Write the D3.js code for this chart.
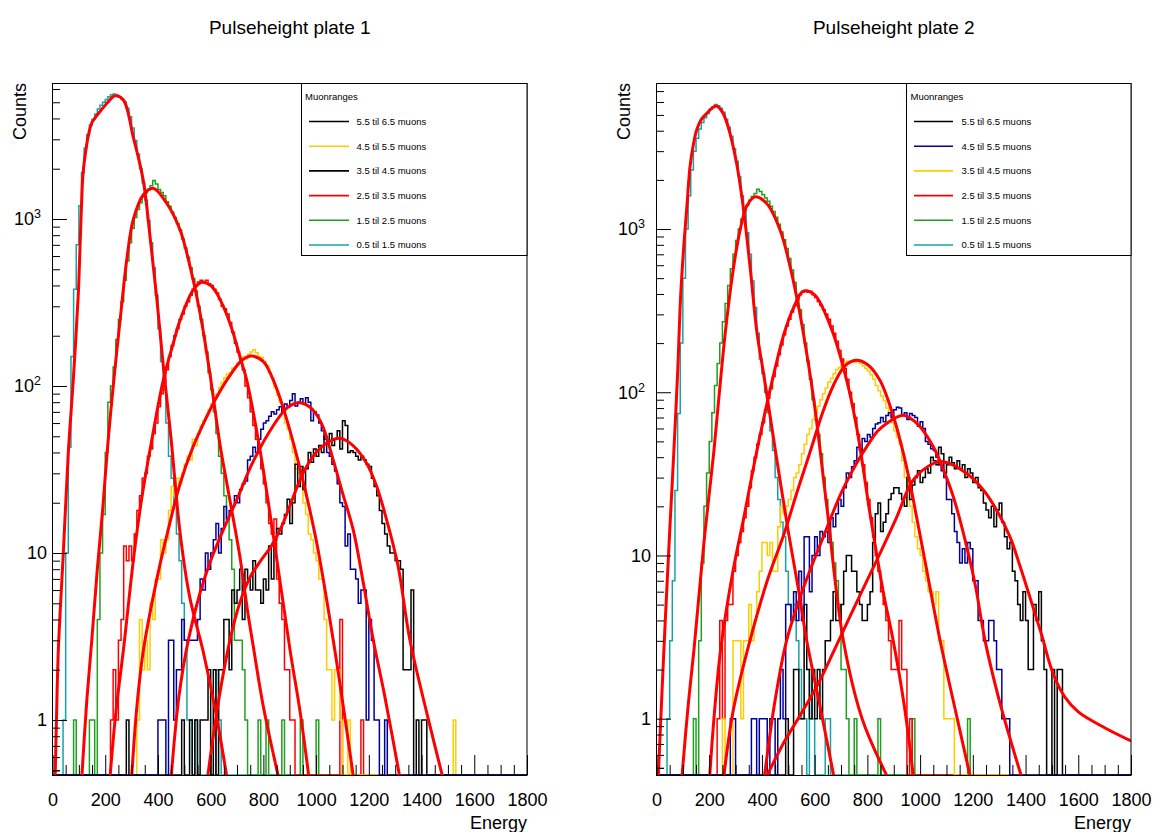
<!DOCTYPE html>
<html>
<head>
<meta charset="utf-8">
<title>Pulseheight</title>
<script src="https://cdn.jsdelivr.net/npm/d3@7"></script>
<style>
  body { margin: 0; background: #fff; }
  svg text { font-family: "Liberation Sans", Arial, Helvetica, sans-serif; fill: #000; }
</style>
</head>
<body>
<div id="chart"></div>
<script>
// axis ticks and texts
const energyTicks = [0, 200, 400, 600, 800, 1000, 1200, 1400, 1600, 1800];
const countDecades = [1, 10, 100, 1000];
const panelTitles = ["Pulseheight plate 1", "Pulseheight plate 2"];
const legendTitle = "Muonranges";
const legendLabels = ["5.5 til 6.5 muons", "4.5 til 5.5 muons", "3.5 til 4.5 muons",
                      "2.5 til 3.5 muons", "1.5 til 2.5 muons", "0.5 til 1.5 muons"];

// histograms, bins of 10: low edge of first bin + counts
const p1CyanFrom = 40;
const p1Cyan = [1,10,43,150,380,700,1200,1900,2650,3200, 3650,3950,4250,4550,4800,5000,5200,5400,5550,5600,
  5500,5350,5200,5000,4600,4100,3500,2950,2450,2000, 1650,1300,980,720,510,350,220,140,95,60,
  38,28,20,13,9,5,3,1,1,0, 1,0,0,0,0,0,0,0,2,1];
const p1GreenFrom = 80;
const p1Green = [1,0,0,0,0,0,1,1,0,4, 10,17,40,80,100,130,190,250,320,430,
  560,720,880,1020,1140,1250,1360,1430,1500,1580, 1700,1620,1500,1440,1380,1270,1190,1100,1020,940,
  860,760,670,590,510,440,370,300,250,200, 160,120,95,70,52,38,30,22,16,12,
  8,3,3,3,2,1,0,0,0,0, 1,0,0,1,0,0,0,0,0,1, 0,0,0,0,0,0,1,0,0,0, 0,0,1];
const p1RedFrom = 220;
const p1Red = [1,2,1,3,4,11,9,11,9,13, 18,22,28,30,38,42,52,60,75,90,
  105,125,150,175,200,220,250,270,300,320, 350,380,400,420,430,420,430,410,400,380,
  360,330,300,290,270,240,210,180,160,140, 125,100,85,70,58,48,40,32,26,20,
  15,13,16,7,5,4,2,2,1,1, 0,0,0,0,0,0,0,0,0,0, 0,0,0,0,0,0,0,4,0,0, 0,0,0,0,0,1];
const p1YellowFrom = 320;
const p1Yellow = [1,4,2,3,2,5,4,7,7,12, 10,12,18,25,22,28,26,30,34,38,
  36,48,44,52,58,62,66,72,78,84, 90,98,105,112,118,120,128,130,138,140,
  150,145,155,160,165,158,150,148,140,132, 120,112,98,88,80,70,60,55,48,40,
  32,30,25,20,17,13,12,10,9,7, 7,4,2,2,1,2,2,1,0,0,
  1,0,0,0,0,0,0,0,0,0, 0,0,0,0,0,0,0,0,0,0, 0,0,0,0,0,0,0,0,0,0, 0,0,0,0,0,0,0,0,0,0, 1];
const p1BlueFrom = 400;
const p1Blue = [1,1,1,0,3,3,1,2,2,4, 3,3,3,3,3,4,7,6,10,8,
  10,12,15,10,14,19,16,18,19,22, 20,24,26,27,36,38,43,40,48,55,
  60,62,66,70,68,72,75,70,78,75, 82,90,76,80,84,78,85,80,62,70,
  67,60,54,48,40,38,34,31,26,20, 19,11,13,8,8,7,5,6,6,1, 4,3,1,1,0,0,1];
const p1BlackFrom = 280;
const p1Black = [1,0,0,0,0,0,0,0,0,0, 0,0,0,0,0,0,0,0,0,0, 0,1,0,0,1,0,1,0,1,1,
  1,2,0,2,0,2,2,4,4,2, 6,5,6,8,4,8,7,6,9,6, 6,5,7,6,11,7,12,14,13,15,
  17,21,15,20,34,25,33,24,32,40, 35,42,38,44,40,50,45,52,44,48, 54,42,62,58,40,41,40,38,36,38,
  36,34,33,28,25,22,18,15,13,11, 10,10,9,9,8,2,2,2,6,0, 1,0,1,1];

const p2CyanFrom = 40;
const p2Cyan = [1,3,7,25,74,200,500,1000,1600,2300, 3000,3600,4100,4500,4800,5100,5400,5600,5800,5700,
  5500,5200,4700,4200,3700,3100,2600,2100,1600,1250, 950,700,480,330,230,160,130,100,75,58,
  44,30,22,16,13,8,5,4,5,3, 2,1,1,0,2,1,0,0,0,0, 1,1];
const p2GreenFrom = 140;
const p2Green = [1,0,3,9,20,32,50,75,110,150, 200,270,350,450,570,700,850,1000,1150,1280,
  1400,1500,1580,1650,1750,1700,1620,1550,1480,1380, 1280,1180,1070,960,860,760,660,560,470,390,
  320,260,200,155,120,90,68,55,42,30, 22,17,12,9,7,5,2,2,1,0,
  0,1,0,0,0,0,0,0,0,0, 1,0,0,0,0,0,0,0,0,0, 0,0,0,1,0,0,0,0,0,0,
  0,0,0,0,0,0,0,0,0,0, 0,0,0,0,1];
const p2RedFrom = 230;
const p2Red = [1,4,1,4,5,5,8,10,12,14, 17,20,26,33,40,48,55,65,78,92,
  105,125,145,170,195,225,255,280,310,340, 370,395,410,420,410,415,395,380,360,340,
  320,300,280,255,230,205,180,160,140,120, 100,85,70,55,45,36,28,22,17,13,
  10,8,6,5,4,3,2,2,2,4, 2,2,0,1];
const p2YellowFrom = 250;
const p2Yellow = [1,0,0,0,3,3,3,1,3,3, 5,3,4,6,8,12,12,10,12,8,
  8,15,20,18,20,22,25,30,32,36, 42,48,55,60,68,75,82,90,98,106,
  115,122,130,138,142,148,150,155,152,156, 152,155,150,145,140,135,128,120,110,102,
  95,89,80,72,65,58,53,48,38,30, 25,20,16,13,11,10,8,7,6,6, 5,6,3,3,1,1,1,1];
const p2BlueFrom = 280;
const p2Blue = [1,1,0,0,0,0,0,0,1,1, 0,1,1,1,0,1,1,0,1,2,
  1,5,5,4,6,4,8,4,13,13, 6,10,13,10,14,13,14,12,17,15,
  18,22,20,26,32,30,35,38,46,44, 52,50,55,53,60,64,65,70,66,72,
  75,70,78,81,80,72,75,68,74,72, 70,62,66,60,50,48,45,44,40,36,
  33,30,22,22,18,14,12,9,11,9, 12,11,7,7,4,4,3,3,4,4, 3,2,2,1,1,1];
const p2BlackFrom = 490;
const p2Black = [1,0,0,2,2,1,1,5,2,1, 2,1,2,1,2,3,3,4,6,4,
  4,5,8,10,10,8,8,6,5,4, 4,5,6,12,18,21,14,16,18,22,
  24,26,26,24,22,20,30,22,27,30, 33,28,30,34,32,40,38,36,46,42,
  32,36,40,37,34,38,34,36,30,34, 32,28,30,26,25,21,19,17,20,15,
  19,21,16,13,11,12,8,7,5,4, 6,4,2,2,5,4,6,3,2,0, 0,2,0,2,2];

// fitted curves as [energy, counts]
const p1CyanFit = [[10,0.45],[15,1],[22,2.6],[41,10],[60,40],[79,110],[98,360],[104,652],[110,1200],
  [115,1800],[123,2360],[135,3100],[149,3757],[165,4100],[180,4395],[210,5000],[237,5470],[269,5160],
  [306,3110],[344,1713],[370,783],[395,342],[420,134],[450,48],[484,13.2],[520,5.5],[571,2.6],[620,1.1],[662,0.45]];
const p1GreenFit = [[111,0.45],[130,1.3],[149,3],[170,8],[190,18],[210,45],[233,110],[260,280],[281,560],
  [306,986],[344,1393],[382,1527],[433,1242],[484,859],[522,518],[560,272],[597,119],[635,45],[670,22],
  [711,9.5],[740,4.5],[761,2.8],[800,1.2],[858,0.45]];
const p1RedFit = [[218,0.45],[240,1.1],[269,2.63],[310,10],[340,22],[370,41.5],[420,108],[458,180],[484,248],
  [534,376],[566,418],[600,400],[623,359],[660,270],[686,206],[711,150],[737,108],[787,41.5],[840,12],
  [901,2.63],[940,1.1],[973,0.45]];
const p1YellowFit = [[300,0.45],[320,1.2],[345,2.63],[400,7.5],[440,14],[484,26],[530,42],[580,63],[623,86],
  [680,120],[720,143],[755,151],[800,140],[838,108],[880,70],[939,32],[1000,12],[1065,3],[1100,1.3],[1142,0.45]];
const p1BlueFit = [[450,0.45],[480,1.4],[515,3],[560,5.8],[600,9],[650,14],[700,21],[760,35],[838,58],[890,74],
  [935,79.4],[980,74],[1020,60],[1065,36],[1100,23],[1141,13.7],[1180,6.5],[1217,3],[1260,1.4],[1318,0.45]];
const p1BlackFit = [[588,0.45],[630,1.3],[673,3],[710,5],[750,7.2],[790,9],[830,11],[870,14.5],[910,21],[950,30],
  [1000,40],[1050,46.5],[1091,48.6],[1140,44],[1192,34.4],[1230,25],[1268,15.7],[1310,8.5],[1356,3],[1420,1.1],[1481,0.45]];

const p2CyanFit = [[7,0.45],[28,2.63],[50,14],[66,44],[80,130],[92,400],[105,850],[117,1500],[127,2400],[140,3300],
  [152,4030],[170,4700],[190,5100],[210,5500],[228,5670],[250,5200],[272,4220],[304,2520],[329,1365],[355,586],
  [380,240],[410,119],[450,45],[500,14],[540,6],[570,3],[620,1.2],[672,0.45]];
const p2GreenFit = [[97,0.45],[120,1.2],[142,2.63],[180,12],[218,44],[241,110],[262,240],[285,480],[305,780],
  [325,1120],[342,1380],[373,1574],[418,1433],[469,984],[507,586],[544,303],[576,150],[600,82],[646,20],
  [709,3],[780,1],[873,0.45]];
const p2RedFit = [[202,0.45],[220,1.1],[243,2.63],[290,8],[332,17.3],[370,36],[408,70.7],[450,140],[484,229],
  [520,330],[557,416],[600,395],[661,251],[721,119],[760,60],[810,18],[860,6],[898,3],[940,1.2],[974,0.45]];
const p2YellowFit = [[256,0.45],[290,1.1],[345,2.63],[420,7],[484,13.6],[535,25],[585,44.3],[630,75],[673,112],
  [715,145],[756,157],[800,148],[848,118],[900,70],[940,40],[974,22],[1020,9],[1076,3],[1130,1.2],[1189,0.45]];
const p2BlueFit = [[410,0.45],[450,1.3],[494,3.03],[560,6.5],[633,13],[700,24],[760,37],[797,46.3],[840,58],
  [873,64.4],[936,72.4],[990,64],[1050,46.3],[1090,33],[1126,22.9],[1177,11.3],[1210,6.5],[1246,3.03],[1300,1.3],[1383,0.45]];
const p2BlackFit = [[420,0.45],[480,0.7],[545,1.05],[610,1.6],[673,2.6],[760,5.2],[848,10.3],[910,17],[974,29],
  [1050,36.6],[1088,37.5],[1177,31.8],[1240,25.2],[1290,19],[1341,13],[1380,8.5],[1410,6],[1460,3.3],[1504,1.9],
  [1550,1.35],[1600,1.1],[1700,0.88],[1800,0.73]];

const colour = {
  cyan: "#17a3a3", green: "#1fa01f", red: "#ff0000",
  yellow: "#ffcc00", blue: "#000099", black: "#000000"
};
const fontStack = '"Liberation Sans", Arial, Helvetica, sans-serif';

const width = 1155, height = 832;
const svg = d3.select("#chart").append("svg")
    .attr("width", width)
    .attr("height", height);

const panels = [
  {
    left: 52.5, right: 527, top: 83, bottom: 775, yMin: 0.4686, yMax: 6520,
    hists: [[p1CyanFrom, p1Cyan, "cyan"], [p1GreenFrom, p1Green, "green"], [p1RedFrom, p1Red, "red"],
            [p1YellowFrom, p1Yellow, "yellow"], [p1BlackFrom, p1Black, "black"], [p1BlueFrom, p1Blue, "blue"]],
    fits: [p1CyanFit, p1GreenFit, p1RedFit, p1YellowFit, p1BlueFit, p1BlackFit],
    legendColours: ["black", "yellow", "black", "red", "green", "cyan"],
    legendLeft: 301.5, lineFrom: 309, lineTo: 349, textX: 356.5, titleX: 305
  },
  {
    left: 656.5, right: 1131, top: 83, bottom: 775, yMin: 0.4519, yMax: 7845,
    hists: [[p2CyanFrom, p2Cyan, "cyan"], [p2GreenFrom, p2Green, "green"], [p2RedFrom, p2Red, "red"],
            [p2YellowFrom, p2Yellow, "yellow"], [p2BlackFrom, p2Black, "black"], [p2BlueFrom, p2Blue, "blue"]],
    fits: [p2CyanFit, p2GreenFit, p2RedFit, p2YellowFit, p2BlueFit, p2BlackFit],
    legendColours: ["black", "blue", "yellow", "red", "green", "cyan"],
    legendLeft: 906.5, lineFrom: 914, lineTo: 953, textX: 961.5, titleX: 910.5
  }
];

panels.forEach(drawPanel);

function histPoints(from, counts) {
  const pts = [[0, 0]];
  counts.forEach((c, i) => pts.push([from + 10 * i, c]));
  pts.push([from + 10 * counts.length, 0]);
  pts.push([1800, 0]);
  return pts;
}

function drawPanel(p, idx) {
  const x = d3.scaleLinear().domain([0, 1800]).range([p.left, p.right]);
  const y = d3.scaleLog().domain([p.yMin, p.yMax]).range([p.bottom, p.top]);

  const g = svg.append("g");

  g.append("clipPath").attr("id", "clip" + idx)
    .append("rect")
      .attr("x", p.left).attr("y", p.top)
      .attr("width", p.right - p.left).attr("height", p.bottom - p.top);

  const plot = g.append("g").attr("clip-path", `url(#clip${idx})`);

  // histograms, empty bins sit on the bottom edge
  const step = d3.line()
      .x(d => x(d[0]))
      .y(d => y(Math.max(d[1], p.yMin)))
      .curve(d3.curveStepAfter);

  p.hists.forEach(h => {
    plot.append("path")
        .attr("d", step(histPoints(h[0], h[1])))
        .attr("fill", "none")
        .attr("stroke", colour[h[2]])
        .attr("stroke-width", 1.5);
  });

  // fits
  const fitLine = d3.line()
      .x(d => x(d[0]))
      .y(d => y(d[1]))
      .curve(d3.curveCatmullRom.alpha(0.5));

  p.fits.forEach(f => {
    plot.append("path")
        .attr("d", fitLine(f))
        .attr("fill", "none")
        .attr("stroke", colour.red)
        .attr("stroke-width", 3)
        .attr("stroke-linejoin", "round");
  });

  // frame
  g.append("rect")
      .attr("x", p.left).attr("y", p.top + 0.5)
      .attr("width", p.right - p.left).attr("height", p.bottom - p.top)
      .attr("fill", "none").attr("stroke", "#000").attr("stroke-width", 1);

  // x axis ticks, pointing inward
  const xMinorTicks = d3.range(0, 1801, 50).filter(v => v % 200 !== 0);
  g.append("g")
      .attr("transform", `translate(0,${p.bottom})`)
      .call(d3.axisTop(x).tickValues(energyTicks).tickSize(20).tickFormat(""))
      .call(s => s.select(".domain").remove());
  g.append("g")
      .attr("transform", `translate(0,${p.bottom})`)
      .call(d3.axisTop(x).tickValues(xMinorTicks).tickSize(10).tickFormat(""))
      .call(s => s.select(".domain").remove());
  g.append("g")
      .attr("transform", `translate(0,${p.bottom})`)
      .call(d3.axisBottom(x).tickValues(energyTicks).tickSize(0).tickPadding(18).tickFormat(d3.format("d")))
      .call(s => s.select(".domain").remove())
      .attr("font-size", 18).attr("font-family", fontStack);

  // y axis ticks
  const yMinorTicks = [];
  [-1, 0, 1, 2, 3].forEach(k => {
    for (let m = 2; m <= 9; m++) {
      const v = m * Math.pow(10, k);
      if (v > p.yMin && v < p.yMax) yMinorTicks.push(v);
    }
  });
  if (0.5 > p.yMin) yMinorTicks.push(0.5);

  g.append("g")
      .attr("transform", `translate(${p.left},0)`)
      .call(d3.axisRight(y).tickValues(countDecades).tickSize(14.5).tickFormat(""))
      .call(s => s.select(".domain").remove());
  g.append("g")
      .attr("transform", `translate(${p.left},0)`)
      .call(d3.axisRight(y).tickValues(yMinorTicks).tickSize(7.5).tickFormat(""))
      .call(s => s.select(".domain").remove());

  const yLab = g.append("g")
      .attr("transform", `translate(${p.left},0)`)
      .call(d3.axisLeft(y).tickValues(countDecades).tickSize(0).tickPadding(5.5)
              .tickFormat(d => d < 100 ? String(d) : ""))
      .call(s => s.select(".domain").remove())
      .attr("font-size", 18).attr("font-family", fontStack);

  yLab.selectAll(".tick text").each(function (d) {
    if (d < 100) return;
    const t = d3.select(this).attr("x", -11.5);
    t.append("tspan").text("10");
    t.append("tspan").attr("font-size", 12.5).attr("dy", -7).text(String(Math.round(Math.log10(d))));
  });

  // titles
  g.append("text")
      .attr("x", (p.left + p.right) / 2).attr("y", 34)
      .attr("text-anchor", "middle").attr("font-size", 19)
      .text(panelTitles[idx]);

  g.append("text")
      .attr("transform", `translate(${p.left - 26.5},${p.top}) rotate(-90)`)
      .attr("text-anchor", "end").attr("font-size", 18)
      .text("Counts");

  g.append("text")
      .attr("x", p.right).attr("y", 829)
      .attr("text-anchor", "end").attr("font-size", 18)
      .text("Energy");

  // legend
  const lg = g.append("g");
  lg.append("rect")
      .attr("x", p.legendLeft).attr("y", p.top + 0.5)
      .attr("width", p.right - p.legendLeft).attr("height", 172)
      .attr("fill", "#fff").attr("stroke", "#000").attr("stroke-width", 1);
  lg.append("text")
      .attr("x", p.titleX).attr("y", 100)
      .attr("font-size", 9.5)
      .text(legendTitle);

  legendLabels.forEach((label, i) => {
    const ly = 121.5 + i * 24.7;
    lg.append("line")
        .attr("x1", p.lineFrom).attr("x2", p.lineTo)
        .attr("y1", ly).attr("y2", ly)
        .attr("stroke", colour[p.legendColours[i]])
        .attr("stroke-width", 1.6);
    lg.append("text")
        .attr("x", p.textX).attr("y", ly + 3.4)
        .attr("font-size", 9.5)
        .text(label);
  });
}
</script>
</body>
</html>
